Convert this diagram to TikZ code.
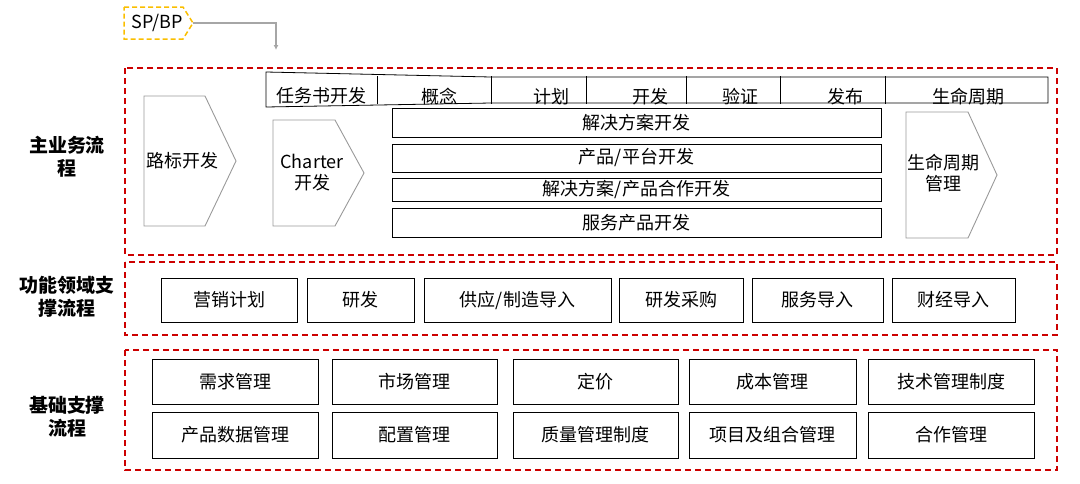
\documentclass[tikz,border=0pt]{standalone}
\usepackage{fontspec}
\setmainfont{Noto Sans CJK SC}
\usetikzlibrary{arrows.meta}
\begin{document}
\begin{tikzpicture}[x=1pt,y=-1pt,
 grp/.style={draw={rgb,255:red,204;green,0;blue,0},dashed,line width=1.3pt,dash pattern=on 6pt off 4pt},
 bx/.style={draw=black,line width=0.8pt,fill=white,inner sep=0pt,font=\fontsize{18}{20}\selectfont},
 pent/.style={draw=gray!80,line width=0.9pt},
 ttl/.style={font=\fontsize{19}{23}\selectfont\bfseries,align=center},
 txt/.style={font=\fontsize{18}{21}\selectfont,align=center}]
\useasboundingbox (0,0) rectangle (1080,483);
% groups
\draw[grp] (125,68) rectangle (1057,255);
\draw[grp] (125,262) rectangle (1057,335);
\draw[grp] (125,350) rectangle (1057,470);
\node[ttl] (t1) at (67,157) {主业务流\\程};
\node[ttl] (t2) at (67,297) {功能领域支\\撑流程};
\node[ttl] (t3) at (67,417) {基础支撑\\流程};
% SP/BP
\draw[draw={rgb,255:red,250;green,190;blue,0},line width=1.5pt,dash pattern=on 5pt off 3pt] (124,7) -- (183,7) -- (193,23) -- (183,39) -- (124,39) -- cycle;
\node[txt] (sp) at (157,23) {SP/BP};
\coordinate (spr) at (193,23);
\coordinate (spd) at (276,50);
\draw[gray!70,line width=1.2pt,-{Latex[length=5pt,width=5pt]}] (spr) -| (spd);
% header
\draw[line width=0.8pt] (266,72) -- (491,77) -- (1048,77) -- (1048,103) -- (491,103) -- (266,107) -- cycle;
\foreach \x in {377,491,586,686,780,885} \draw[line width=0.8pt] (\x,76) -- (\x,104);
\node[txt] (h1) at (321,96) {任务书开发};
\node[txt] (h2) at (439,97) {概念};
\node[txt] (h3) at (551,97) {计划};
\node[txt] (h4) at (650,97) {开发};
\node[txt] (h5) at (740,97) {验证};
\node[txt] (h6) at (845,97) {发布};
\node[txt] (h7) at (968,97) {生命周期};
% pentagons
\draw[pent] (144,96) -- (205,96) -- (236,161) -- (205,226) -- (144,226) -- cycle;
\node[txt] (p1) at (182,161) {路标开发};
\draw[pent] (273,120) -- (335,120) -- (364,173) -- (335,226) -- (273,226) -- cycle;
\node[txt] (p2) at (312,173) {Charter\\开发};
\draw[pent] (906,112) -- (968,112) -- (997,175) -- (968,238) -- (906,238) -- cycle;
\node[txt] (p3) at (943,173) {生命周期\\管理};
% bars
\foreach \a/\b/\t/\n in {108/137/{解决方案开发}/b1,144/172/{产品/平台开发}/b2,178/201/{解决方案/产品合作开发}/b3,208/237/{服务产品开发}/b4}
  \node[bx,minimum width=489pt,minimum height={\b-\a}] (\n) at (636.5,{(\a+\b)/2}) {\t};
% row 2
\foreach \a/\b/\t/\n in {161/297/{营销计划}/f1,307/414/{研发}/f2,424/611/{供应/制造导入}/f3,619/743/{研发采购}/f4,752/883/{服务导入}/f5,892/1015/{财经导入}/f6}
  \node[bx,minimum width={\b-\a},minimum height=44pt] (\n) at ({(\a+\b)/2},300) {\t};
% row 3
\foreach \a/\b/\t/\u/\n in {152/318/需求管理/产品数据管理/1,332/497/市场管理/配置管理/2,513/678/定价/质量管理制度/3,689/856/成本管理/项目及组合管理/4,868/1034/技术管理制度/合作管理/5}{
  \node[bx,minimum width={\b-\a},minimum height=45pt] (g\n) at ({(\a+\b)/2},381.5) {\t};
  \node[bx,minimum width={\b-\a},minimum height=46pt] (k\n) at ({(\a+\b)/2},435) {\u};}
\end{tikzpicture}
\end{document}
